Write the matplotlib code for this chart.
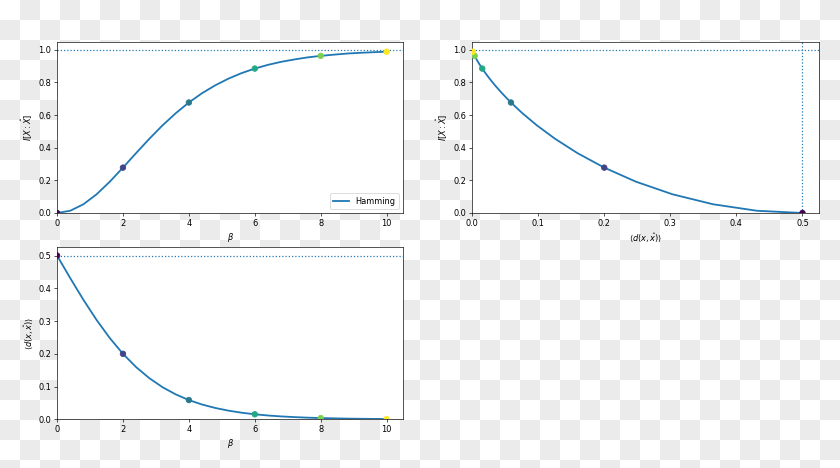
import numpy as np
import matplotlib
matplotlib.use('Agg')
import matplotlib.pyplot as plt

# beta sweep, expected Hamming distortion and mutual information (bits)
beta = [0.0, 0.4, 0.8, 1.2, 1.6, 2.0, 2.4, 2.8, 3.2, 3.6, 4.0, 4.4, 4.8,
        5.2, 5.6, 6.0, 6.4, 6.8, 7.2, 7.6, 8.0, 8.4, 8.8, 9.2, 9.6, 10.0]
dist = [0.5, 0.4311, 0.3648, 0.3033, 0.2481, 0.2, 0.1593, 0.1256, 0.0981,
        0.0762, 0.0588, 0.0452, 0.0347, 0.0265, 0.0202, 0.0154, 0.0117,
        0.0089, 0.0068, 0.0051, 0.0039, 0.0030, 0.0022, 0.0017, 0.0013, 0.0010]
info = [0.0, 0.0136, 0.0534, 0.1146, 0.1917, 0.2781, 0.3674, 0.4548, 0.5370,
        0.6113, 0.6773, 0.7344, 0.7825, 0.8235, 0.8575, 0.8853, 0.9081,
        0.9266, 0.9412, 0.9538, 0.9632, 0.9706, 0.9774, 0.9819, 0.9856, 0.9886]

# marked points: beta = 0, 2, 4, 6, 8, 10
mark_beta = beta[::5]
mark_dist = dist[::5]
mark_info = info[::5]

DPI = 59
fig = plt.figure(figsize=(840 / DPI, 468 / DPI), dpi=DPI)
fig.patch.set_alpha(0)

# transparent-background checkerboard
yy, xx = np.mgrid[0:468, 0:840]
board = np.where(((xx // 20) + (yy // 20)) % 2 == 1, 0.925, 1.0)
fig.figimage(np.dstack([board, board, board]), zorder=-10)

colors = plt.cm.viridis(np.linspace(0, 1, len(mark_beta)))
LW = 2.2
DOT = dict(color='C0', ls=':', lw=1.5)
MS = 45

ax1 = fig.add_axes([0.0679, 0.5449, 0.412, 0.366])
ax2 = fig.add_axes([0.562, 0.5449, 0.413, 0.366])
ax3 = fig.add_axes([0.0679, 0.104, 0.412, 0.3675])

# I vs beta
ax1.plot(beta, info, lw=LW, label='Hamming')
ax1.scatter(mark_beta, mark_info, c=colors, s=MS, zorder=3)
ax1.axhline(1.0, **DOT)
ax1.set_xlim(0, 10.5)
ax1.set_ylim(0, 1.05)
ax1.set_xlabel(r'$\beta$')
ax1.set_ylabel(r'$I[X:\hat{X}]$')
ax1.legend(loc='lower right')

# I vs distortion
ax2.plot(dist, info, lw=LW)
ax2.scatter(mark_dist, mark_info, c=colors, s=MS, zorder=3)
ax2.axhline(1.0, **DOT)
ax2.axvline(0.5, **DOT)
ax2.set_xlim(0, 0.525)
ax2.set_ylim(0, 1.05)
ax2.set_xlabel(r'$\langle d(x,\hat{x})\rangle$')
ax2.set_ylabel(r'$I[X:\hat{X}]$')

# distortion vs beta
ax3.plot(beta, dist, lw=LW)
ax3.scatter(mark_beta, mark_dist, c=colors, s=MS, zorder=3)
ax3.axhline(0.5, **DOT)
ax3.set_xlim(0, 10.5)
ax3.set_ylim(0, 0.525)
ax3.set_xlabel(r'$\beta$')
ax3.set_ylabel(r'$\langle d(x,\hat{x})\rangle$')

fig.savefig('out.png', dpi=DPI)
